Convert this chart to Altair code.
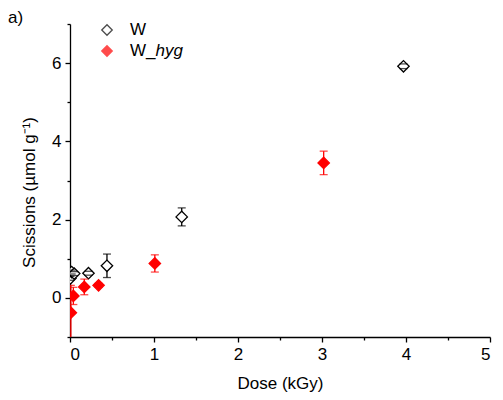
import altair as alt
import pandas as pd

# ---- data ----
w_dose = [0.005, 0.02, 0.05, 0.22, 0.44, 1.33, 3.97]
w_val = [0.50, 0.66, 0.62, 0.63, 0.82, 2.07, 5.92]
w_err = [0.05, 0.05, 0.05, 0.05, 0.30, 0.23, 0.06]

h_dose = [0.01, 0.04, 0.17, 0.34, 1.01, 3.02]
h_val = [-0.38, 0.05, 0.28, 0.32, 0.88, 3.45]
h_err = [0.70, 0.22, 0.20, 0.05, 0.22, 0.30]

series_names = ["W", "W_hyg"]
y_ticks = [-1, 0, 1, 2, 3, 4, 5, 6, 7]
x_ticks = [0, 0.5, 1, 1.5, 2, 2.5, 3, 3.5, 4, 4.5, 5]

rows = []
for d, v, e in zip(w_dose, w_val, w_err):
    rows.append({"dose": d, "val": v, "lo": v - e, "hi": v + e, "series": "W"})
for d, v, e in zip(h_dose, h_val, h_err):
    rows.append({"dose": d, "val": v, "lo": v - e, "hi": v + e, "series": "W_hyg"})
df = pd.DataFrame(rows)

FONT = "Liberation Sans"
FS = 17

xscale = alt.Scale(domain=[0, 5], nice=False)
yscale = alt.Scale(domain=[-1, 7], nice=False)

x_axis = alt.Axis(
    title="Dose (kGy)", values=x_ticks,
    labelExpr="datum.value % 1 == 0 ? format(datum.value, 'd') : ''",
    tickSize={"condition": {"test": "datum.value % 1 == 0", "value": 5}, "value": 3},
    labelPadding=4, titlePadding=13,
)
y_axis = alt.Axis(
    title="Scissions (µmol g⁻¹)", values=y_ticks,
    labelExpr="datum.value % 2 == 0 ? format(datum.value, 'd') : ''",
    tickSize={"condition": {"test": "datum.value % 2 == 0", "value": 5}, "value": 3},
    labelPadding=4,
    titleX=-41, titleY=168, titleBaseline="middle",
)

color_scale = alt.Scale(domain=series_names, range=["#000000", "#ff0000"])
fill_scale = alt.Scale(domain=series_names, range=["#ffffff", "#ff0000"])

base = alt.Chart(df)

bars = base.mark_rule(strokeWidth=1.3, clip=True).encode(
    x=alt.X("dose:Q", scale=xscale, axis=x_axis),
    y=alt.Y("lo:Q", scale=yscale, axis=y_axis), y2="hi:Q",
    color=alt.Color("series:N", scale=color_scale, legend=None),
)

pts = base.mark_point(shape="diamond", size=130, filled=True, strokeWidth=1.3,
                      opacity=1, clip=True).encode(
    x=alt.X("dose:Q", scale=xscale, axis=x_axis),
    y=alt.Y("val:Q", scale=yscale, axis=y_axis),
    fill=alt.Fill("series:N", scale=fill_scale, legend=None),
    stroke=alt.Stroke("series:N", scale=color_scale, legend=None),
)

cap_lo = base.mark_tick(orient="horizontal", size=8, thickness=1.3, clip=True).encode(
    x=alt.X("dose:Q", scale=xscale, axis=x_axis),
    y=alt.Y("lo:Q", scale=yscale, axis=y_axis),
    color=alt.Color("series:N", scale=color_scale, legend=None),
)
cap_hi = base.mark_tick(orient="horizontal", size=8, thickness=1.3, clip=True).encode(
    x=alt.X("dose:Q", scale=xscale, axis=x_axis),
    y=alt.Y("hi:Q", scale=yscale, axis=y_axis),
    color=alt.Color("series:N", scale=color_scale, legend=None),
)

# ---- manual legend (needed for the partly italic label) ----
leg_w_sym = alt.Chart(pd.DataFrame({"s": ["W"]})).mark_point(
    shape="diamond", size=110, filled=True, fill="#ffffff", stroke="#000000", strokeWidth=1.3
).encode(x=alt.value(37), y=alt.value(6))
leg_h_sym = alt.Chart(pd.DataFrame({"s": ["W_hyg"]})).mark_point(
    shape="diamond", size=110, filled=True, fill="#ff0000", stroke="#ff0000", strokeWidth=1.3
).encode(x=alt.value(37), y=alt.value(27))
leg_w_txt = alt.Chart(pd.DataFrame({"t": ["W"]})).mark_text(
    align="left", baseline="middle", font=FONT, fontSize=FS, color="#000000"
).encode(x=alt.value(60), y=alt.value(6), text="t:N")
leg_h_txt1 = alt.Chart(pd.DataFrame({"t": ["W_"]})).mark_text(
    align="left", baseline="middle", font=FONT, fontSize=FS, color="#000000"
).encode(x=alt.value(60), y=alt.value(27), text="t:N")
leg_h_txt2 = alt.Chart(pd.DataFrame({"t": ["hyg"]})).mark_text(
    align="left", baseline="middle", font=FONT, fontSize=FS, fontStyle="italic", color="#000000"
).encode(x=alt.value(85.5), y=alt.value(27), text="t:N")

panel = alt.Chart(pd.DataFrame({"t": ["a)"]})).mark_text(
    align="left", baseline="middle", font=FONT, fontSize=FS, color="#000000"
).encode(x=alt.value(-62), y=alt.value(-6), text="t:N")

chart = alt.layer(
    bars, pts, cap_lo, cap_hi,
    leg_w_sym, leg_h_sym, leg_w_txt, leg_h_txt1, leg_h_txt2, panel,
).properties(
    width=420, height=313,
    background="white",
    autosize=alt.AutoSizeParams(type="none"),
    padding={"left": 62, "top": 16, "right": 5, "bottom": 56},
).configure_view(
    stroke=None
).configure_axis(
    grid=False, domainColor="#000000", domainWidth=1.3,
    tickColor="#000000", tickWidth=1.3,
    labelFont=FONT, labelFontSize=FS, labelColor="#000000",
    titleFont=FONT, titleFontSize=FS, titleColor="#000000", titleFontWeight="normal",
)

chart.save("out.html", embed_options={"renderer": "svg", "actions": False})
